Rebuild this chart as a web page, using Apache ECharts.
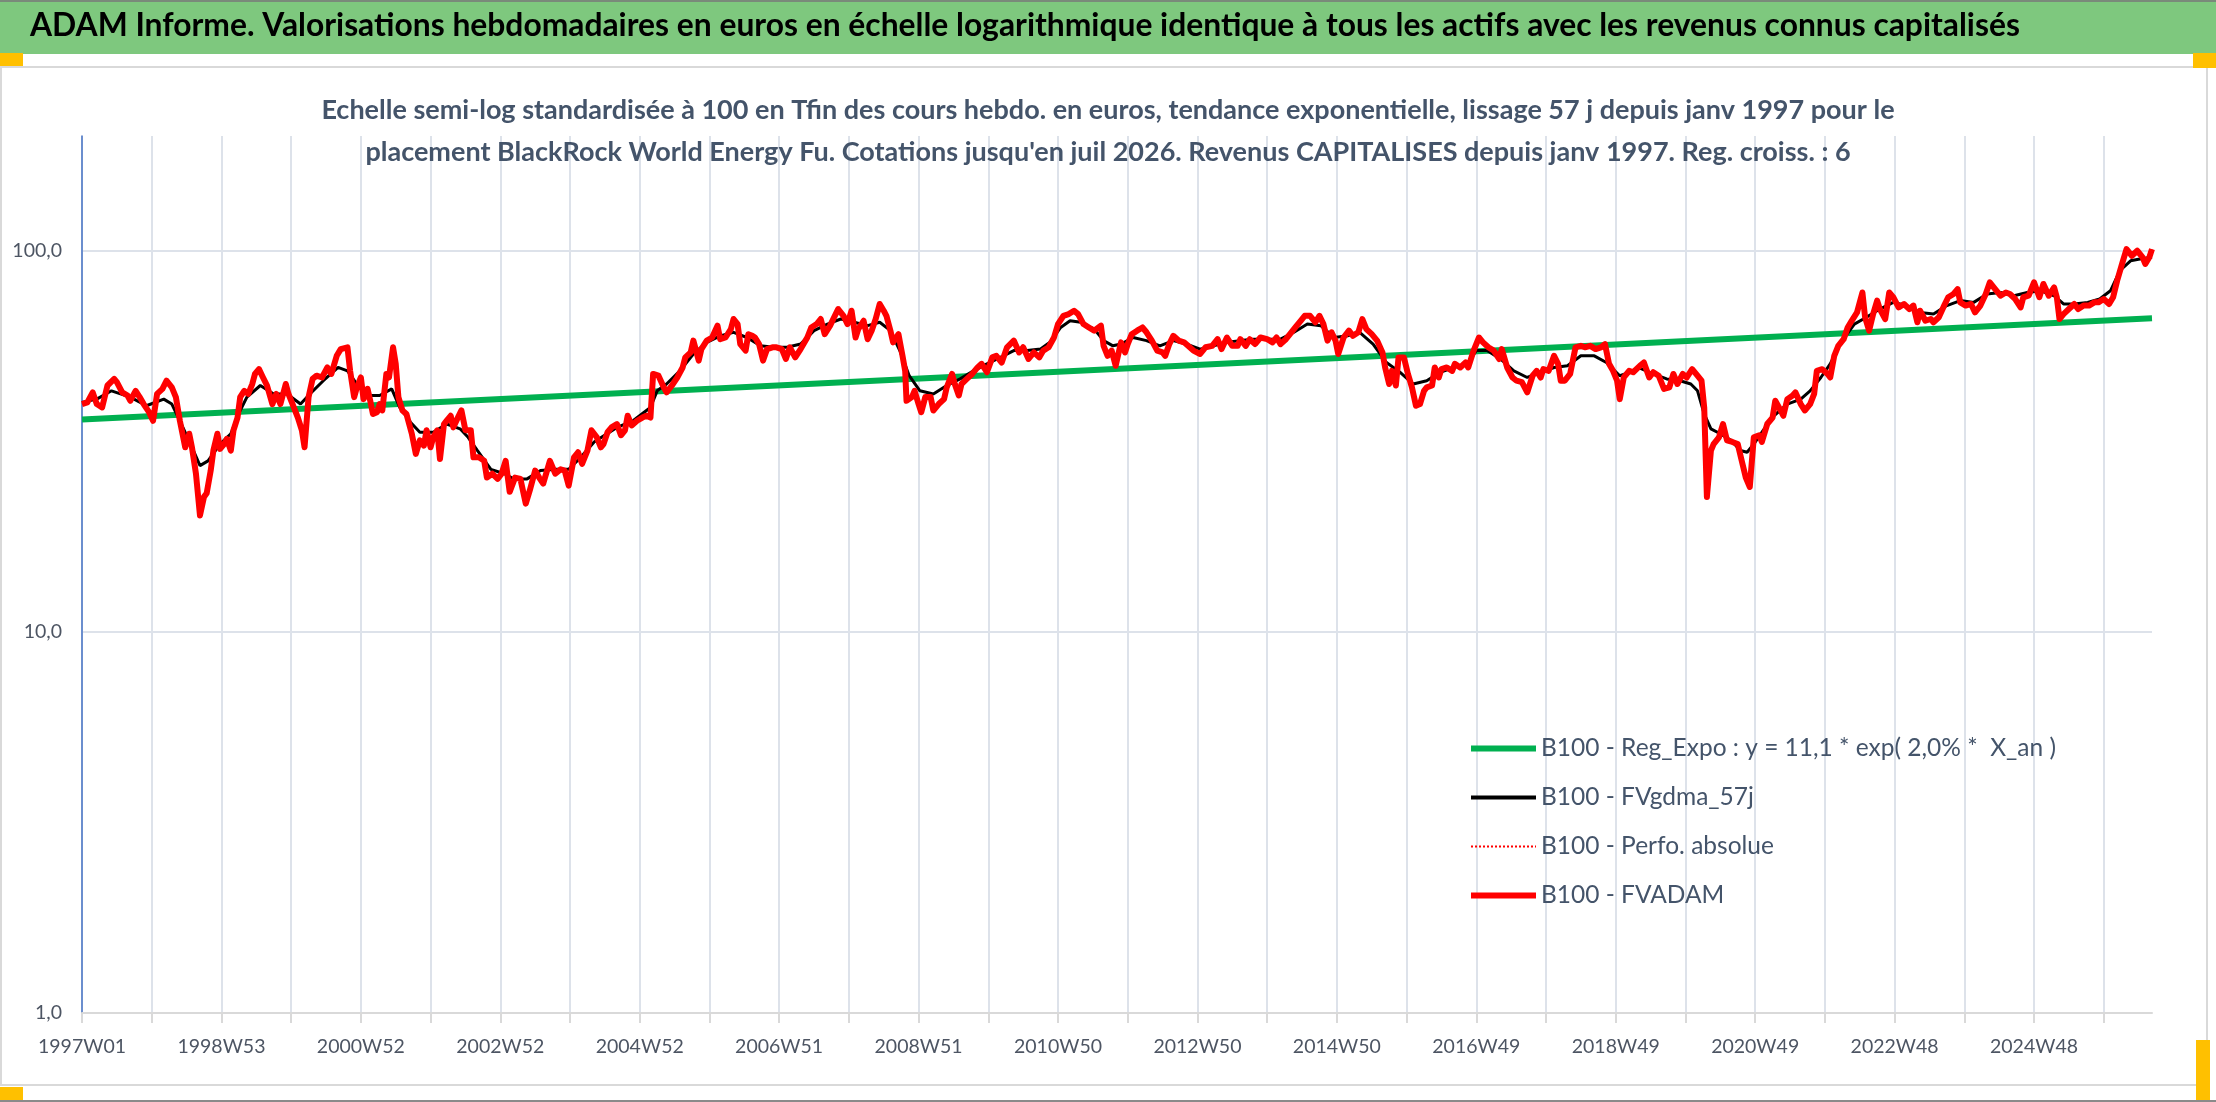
<!DOCTYPE html>
<html>
<head>
<meta charset="utf-8">
<script src="https://cdn.jsdelivr.net/npm/echarts@6/dist/echarts.min.js"></script>
<style>
html,body{margin:0;padding:0;background:#fff;}
#chart{width:2216px;height:1102px;}
</style>
</head>
<body>
<div id="chart"></div>
<script>
// ---- Week categories (ISO weeks from 1997W01, weekly) ----
const WEEK_COUNT = 1545;
const weekLabels = [];
(function () {
  const day = 864e5;
  const start = Date.UTC(1996, 11, 30);
  for (let i = 0; i < WEEK_COUNT; i++) {
    const th = new Date(start + i * 7 * day + 3 * day);
    const y = th.getUTCFullYear();
    const wk = Math.floor((th.getTime() - Date.UTC(y, 0, 1)) / (7 * day)) + 1;
    weekLabels.push(y + 'W' + String(wk).padStart(2, '0'));
  }
})();

const yTicks = [1, 10, 100];

// ---- Series values: [week index, value] ----
const regExpo = [[0, 36.1], [1544, 66.5]];

const fvadam = [
[0,39.6],[4,40.0],[8,42.5],[11,39.6],[15,38.8],[19,44.3],[24,46.1],[26,45.2],[30,42.5],[34,41.7],
[36,40.4],[40,42.9],[43,41.3],[46,39.6],[50,37.7],[53,35.8],[56,42.1],[60,43.4],[63,45.6],[67,43.8],
[70,41.3],[73,35.8],[77,30.5],[80,33.1],[82,30.5],[85,26.0],[88,20.2],[91,22.6],[93,23.1],[96,26.5],
[98,29.9],[101,33.1],[103,30.2],[106,31.1],[108,32.1],[111,29.9],[113,33.8],[116,36.5],[118,41.3],[121,42.9],
[124,42.1],[127,44.7],[129,47.5],[132,48.9],[135,46.5],[138,44.3],[142,39.6],[145,42.1],[148,39.6],[152,44.7],
[154,42.1],[158,38.8],[161,36.5],[164,33.8],[166,30.5],[169,41.3],[172,46.1],[175,47.0],[179,46.5],[183,49.4],
[186,47.5],[190,53.0],[193,55.2],[198,55.8],[200,48.4],[203,41.3],[205,43.8],[208,46.5],[210,40.8],[213,43.4],
[215,40.4],[217,37.3],[220,37.7],[222,39.6],[224,38.1],[227,47.5],[229,46.5],[232,55.8],[234,50.5],[236,41.3],
[239,38.1],[242,37.3],[246,33.1],[249,29.3],[252,31.8],[255,30.8],[257,33.8],[260,30.5],[262,32.4],[265,33.8],
[267,28.4],[270,35.1],[272,35.8],[275,36.9],[277,34.4],[281,36.9],[283,38.1],[286,33.8],[290,33.8],[292,28.7],
[296,28.7],[300,28.1],[302,25.4],[306,26.0],[310,25.2],[313,26.0],[316,28.1],[319,23.3],[323,25.4],[327,25.2],
[331,21.7],[334,23.5],[338,26.5],[341,25.4],[344,24.5],[349,28.1],[353,26.0],[357,26.7],[360,26.5],[363,24.2],
[367,28.7],[370,29.6],[373,27.6],[377,29.9],[380,33.8],[384,32.4],[387,30.5],
[389,31.1],[392,33.4],[395,34.4],[399,35.1],[402,32.8],[405,33.8],[407,36.9],[410,34.8],[414,35.8],[418,36.5],
[421,36.9],[424,36.5],[426,47.5],[430,47.0],[434,43.8],[436,42.5],[440,44.3],[444,46.5],[448,49.4],[450,52.5],
[454,54.1],[456,58.1],[460,51.5],[462,55.2],[466,58.1],[470,59.2],[474,63.6],[476,58.6],[480,59.2],[484,62.3],
[486,66.2],[489,64.2],[491,56.9],[495,54.7],[497,60.4],[500,59.8],[502,59.2],[505,56.9],[508,51.5],[511,55.2],
[515,55.8],[518,55.8],[522,55.2],[525,52.0],[528,55.8],[532,52.5],[536,55.2],[541,59.2],[544,62.9],[548,64.2],
[551,66.2],[554,60.4],[558,63.6],[561,66.9],[564,70.3],[568,67.5],[571,64.2],[574,69.6],[577,59.2],[579,62.3],
[583,65.5],[586,58.6],[589,61.7],[592,66.2],[595,72.5],[598,69.6],[600,67.5],[603,61.7],[605,57.5],[609,60.4],
[612,53.0],[614,48.4],[615,40.4],[619,41.3],[621,42.9],[624,39.6],[626,37.7],[629,41.3],[633,41.3],[635,38.1],
[639,39.6],[643,40.8],[645,43.8],[649,47.5],[651,44.7],[654,41.7],[656,44.7],[660,46.1],[664,47.5],[668,49.4],
[671,50.5],[675,48.0],[679,52.5],[682,53.0],[686,50.9],[690,55.8],[695,58.1],[699,54.1],[702,55.8],[706,52.0],
[710,54.1],[714,52.5],[717,54.7],[721,55.8],[725,59.2],[728,64.2],[732,67.5],[736,68.2],[740,69.6],[743,68.2],
[747,64.2],[751,62.9],[755,61.7],[760,63.6],[762,56.3],[765,53.0],[768,54.7],[771,49.9],[775,57.5],
[778,54.1],[780,56.9],[783,60.4],[787,61.7],[791,62.9],[794,61.1],[798,58.1],[802,54.7],[806,54.1],
[808,53.0],[811,56.9],[814,59.8],[818,58.1],[822,57.5],[825,56.3],[829,54.7],[834,53.6],[838,55.8],[843,56.3],
[847,58.6],[850,55.2],[854,59.2],[858,56.3],[862,56.3],[864,58.6],[868,56.3],[871,58.6],[875,56.9],[879,59.2],
[884,58.6],[888,57.5],[891,59.2],[894,56.9],[898,58.6],[901,60.4],[905,62.9],[909,65.5],[912,67.5],[916,67.5],
[920,64.9],[923,67.5],[926,64.2],[929,58.1],[932,61.1],[935,58.1],[937,53.6],[941,59.2],[945,61.7],[948,59.8],
[952,61.1],[955,66.2],[958,62.3],[962,60.4],[966,58.1],[970,54.1],[972,49.4],[975,44.7],[977,48.4],[980,44.3],
[982,52.5],[986,52.5],[989,47.5],[992,43.8],[995,39.2],[998,39.6],[1001,42.9],[1003,43.8],[1007,44.3],[1009,49.4],
[1012,46.5],[1014,48.9],[1018,49.4],[1022,48.4],[1024,50.5],[1028,49.4],[1032,50.9],[1034,49.4],[1038,54.7],[1042,59.2],
[1045,57.5],[1049,55.8],[1053,54.7],[1057,52.0],[1059,55.2],[1063,49.4],[1067,46.5],[1070,45.6],[1074,45.2],[1078,42.5],
[1082,47.0],[1085,48.4],[1088,46.5],[1090,48.9],[1094,48.4],[1098,53.0],[1101,50.5],[1103,45.6],[1106,45.6],[1110,47.5],
[1114,55.8],[1118,56.3],[1121,55.8],[1125,56.3],[1129,55.2],[1133,55.8],[1136,56.9],[1139,50.5],[1142,48.4],[1145,45.6],
[1147,40.8],[1150,46.5],[1154,48.4],[1157,48.0],[1162,49.9],
[1165,50.9],[1169,46.5],[1172,48.0],[1176,47.0],[1180,43.4],[1184,43.8],[1187,47.5],[1190,44.7],[1194,47.5],[1197,46.5],
[1201,48.9],[1205,47.0],[1208,45.6],[1210,38.8],[1212,22.6],[1215,29.9],[1217,31.1],[1221,32.4],[1224,35.1],[1227,31.8],
[1231,31.5],[1235,31.1],[1238,28.1],[1241,25.4],[1244,24.0],[1247,32.4],[1251,32.8],[1253,31.5],[1257,35.1],[1261,36.5],
[1263,40.4],[1267,38.1],[1269,36.9],[1272,40.8],[1276,41.7],[1278,42.5],[1282,39.6],[1285,38.1],[1289,39.6],[1292,42.1],
[1294,48.4],[1298,48.9],[1302,47.5],[1304,46.5],[1307,53.0],[1310,56.3],[1314,58.6],[1317,62.9],[1320,65.5],[1324,68.9],
[1328,77.7],[1330,66.9],[1333,61.7],[1336,68.2],[1339,74.0],[1341,70.3],[1345,66.2],[1348,77.7],[1351,75.5],[1355,71.0],
[1359,72.5],[1363,70.3],[1366,71.8],[1369,64.9],[1371,69.6],[1375,65.5],[1379,66.2],[1381,64.9],[1385,66.9],[1389,71.8],
[1392,75.5],[1396,77.0],[1399,79.3],[1401,73.2],[1405,71.8],[1409,72.5],[1412,68.9],[1416,71.8],[1420,77.0],[1423,82.6],
[1427,79.3],[1431,76.2],[1435,77.7],[1438,77.0],[1442,74.7],[1446,71.0],[1448,75.5],[1452,76.2],[1456,82.6],[1460,75.5],
[1463,81.8],[1467,76.2],[1471,80.1],[1473,75.5],[1475,66.2],[1478,68.2],[1482,70.3],[1486,72.5],[1489,70.3],[1493,71.8],
[1497,71.8],[1501,73.2],[1504,73.2],[1508,74.7],[1512,72.5],[1515,75.5],[1518,83.4],[1522,93.2],[1525,101.0],[1529,97.0],
[1533,100.0],[1537,96.1],[1539,92.3],[1542,96.1],[1544,101.0]
];

const perfoAbsolue = fvadam;

const fvgdma = [
[0,40.0],[11,40.8],[22,42.9],[36,41.3],[48,39.2],[61,40.8],[67,39.6],[73,35.8],[81,31.1],[88,27.3],
[94,28.1],[103,31.1],[111,33.1],[118,38.1],[123,41.3],[133,44.3],[143,42.1],[153,42.1],[163,39.6],[170,42.1],
[180,45.6],[191,49.4],[198,48.4],[205,44.7],[213,41.7],[222,41.7],[231,43.4],[237,38.8],[245,35.5],[252,33.4],
[262,33.4],[272,35.1],[282,34.1],[288,32.4],[295,29.9],[305,26.7],[315,26.0],[322,25.2],[332,25.2],[342,26.5],
[354,26.7],[363,26.7],[372,28.7],[382,31.5],[399,34.4],[411,35.8],[424,38.8],[429,42.9],[436,44.7],[446,48.4],
[456,53.6],[466,57.5],[476,59.8],[486,61.1],[496,59.2],[506,56.3],[516,55.8],[526,55.8],[536,56.9],[546,61.7],
[556,64.2],[566,66.2],[576,64.9],[586,63.6],[595,64.9],[603,61.7],[610,54.7],[617,47.0],[625,42.9],[635,42.1],
[645,44.3],[655,46.1],[665,48.4],[675,50.5],[685,52.5],[695,54.7],[705,54.7],[715,55.2],[722,57.5],[730,62.9],
[737,65.5],[745,64.9],[755,62.3],[762,58.1],[769,56.3],[775,56.9],[784,59.2],[794,58.1],[804,56.3],[814,58.1],
[824,56.9],[834,55.2],[844,56.3],[854,57.5],[864,58.1],[874,58.6],[884,58.6],[894,58.6],[904,61.1],[914,64.2],
[924,63.6],[934,59.2],[944,59.8],[953,61.1],[963,56.9],[973,50.9],[983,48.0],[993,44.7],[1003,45.6],[1013,48.0],
[1023,49.4],[1033,50.5],[1040,54.7],[1048,54.7],[1058,52.0],[1068,48.4],[1078,46.5],[1088,48.0],[1098,49.4],[1108,49.9],
[1118,53.0],[1128,53.0],[1137,50.9],[1147,47.0],[1155,48.0],[1162,49.2],[1172,47.5],[1182,46.1],[1192,45.6],[1200,44.7],
[1205,42.9],[1210,37.3],[1215,34.1],[1222,33.1],[1230,31.8],[1237,29.9],[1242,29.6],[1247,31.1],[1254,33.8],[1262,36.9],
[1272,39.6],[1282,40.8],[1289,42.9],[1297,46.5],[1304,50.5],[1312,57.5],[1322,64.2],[1331,66.9],[1341,70.3],[1351,73.2],
[1361,71.8],[1371,68.9],[1381,68.2],[1391,71.8],[1401,74.0],[1411,73.2],[1421,77.0],[1431,77.7],[1441,76.2],[1451,77.7],
[1461,78.5],[1471,76.2],[1478,72.5],[1486,72.5],[1496,73.2],[1505,74.7],[1513,78.5],[1520,88.6],[1528,94.1],[1535,95.1],
[1544,96.1]
];

const seriesNames = [
  'B100 - Reg_Expo : y = 11,1 * exp( 2,0% *  X_an )',
  'B100 - FVgdma_57j',
  'B100 - Perfo. absolue',
  'B100 - FVADAM'
];

const mainTitle = 'ADAM Informe. Valorisations hebdomadaires en euros en échelle logarithmique identique à tous les actifs avec les revenus connus capitalisés';
const subTitle1 = 'Echelle semi-log standardisée à 100 en Tfin des cours hebdo. en euros, tendance exponentielle, lissage 57 j depuis janv 1997 pour le';
const subTitle2 = "placement BlackRock World Energy Fu. Cotations jusqu'en juil 2026. Revenus CAPITALISES depuis janv 1997. Reg. croiss. : 6";

const FONT = 'Lato, "Open Sans", sans-serif';
const chart = echarts.init(document.getElementById('chart'), null, {renderer: 'canvas'});

const subStyle = {fontFamily: FONT, fontSize: 27, fontWeight: 'bold', color: '#44546A', lineHeight: 30};

chart.setOption({
  animation: false,
  backgroundColor: '#ffffff',
  graphic: [
    {type: 'rect', z: 0, shape: {x: 0, y: 0, width: 2216, height: 54}, style: {fill: '#7EC87E'}},
    {type: 'rect', z: 0, shape: {x: 0, y: 0, width: 2216, height: 2}, style: {fill: '#7a8a7a'}},
    {type: 'rect', z: 0, shape: {x: 1, y: 67, width: 2206, height: 1018}, style: {fill: 'none', stroke: '#D9D9D9', lineWidth: 2}},
    {type: 'rect', z: 1, shape: {x: 0, y: 53, width: 23, height: 13}, style: {fill: '#FFC000'}},
    {type: 'rect', z: 1, shape: {x: 2193, y: 53, width: 23, height: 15}, style: {fill: '#FFC000'}},
    {type: 'rect', z: 1, shape: {x: 0, y: 1087, width: 23, height: 13}, style: {fill: '#FFC000'}},
    {type: 'rect', z: 1, shape: {x: 2196, y: 1040, width: 14, height: 60}, style: {fill: '#FFC000'}},
    {type: 'rect', z: 0, shape: {x: 0, y: 1100, width: 2216, height: 2}, style: {fill: '#8a8a8a'}}
  ],
  title: [
    {
      text: mainTitle, left: 30, top: 10, padding: 0, z: 10,
      textStyle: {fontFamily: FONT, fontSize: 31.8, fontWeight: 'bold', color: '#000000'}
    },
    {text: subTitle1, left: 'center', top: 95, padding: 0, z: 10, textStyle: subStyle},
    {text: subTitle2, left: 'center', top: 137, padding: 0, z: 10, textStyle: subStyle}
  ],
  legend: {
    orient: 'vertical', left: 1468, top: 736, padding: 0,
    itemWidth: 65, itemHeight: 20, itemGap: 24,
    itemStyle: {opacity: 0},
    data: [
      {name: seriesNames[0], lineStyle: {width: 6, color: '#00B050'}},
      {name: seriesNames[1], lineStyle: {width: 4, color: '#000000'}},
      {name: seriesNames[2], lineStyle: {width: 2, color: '#FF0000', type: 'dotted'}},
      {name: seriesNames[3], lineStyle: {width: 6, color: '#FF0000'}}
    ],
    textStyle: {fontFamily: FONT, fontSize: 24.5, color: '#44546A'}
  },
  grid: {left: 82, right: 64, top: 136, bottom: 89, containLabel: false},
  xAxis: {
    type: 'category', data: weekLabels, boundaryGap: false,
    axisLine: {show: true, lineStyle: {color: '#D9D9D9', width: 2}},
    axisTick: {show: true, length: 10, interval: (i) => i % 52 === 0, lineStyle: {color: '#D9D9D9', width: 2}},
    axisLabel: {interval: (i) => i % 104 === 0, margin: 24, fontFamily: FONT, fontSize: 19.5, color: '#4D5563'},
    splitLine: {show: true, interval: (i) => i % 52 === 0, lineStyle: {color: '#DDE2EA', width: 2}}
  },
  yAxis: {
    type: 'log', logBase: 10, min: yTicks[0], max: 200,
    axisLine: {show: true, lineStyle: {color: '#4472C4', width: 1.5}},
    axisTick: {show: false},
    axisLabel: {
      margin: 20, fontFamily: FONT, fontSize: 19.5, color: '#4D5563', showMaxLabel: false,
      formatter: (v) => yTicks.indexOf(Math.round(v)) >= 0 ? Number(v).toFixed(1).replace('.', ',') : ''
    },
    splitLine: {show: true, showMaxLine: false, lineStyle: {color: '#DDE2EA', width: 2}}
  },
  series: [
    {name: seriesNames[0], type: 'line', data: regExpo, symbol: 'none', z: 2,
     lineStyle: {color: '#00B050', width: 6}, itemStyle: {color: '#00B050'}},
    {name: seriesNames[1], type: 'line', data: fvgdma, symbol: 'none', z: 3,
     lineStyle: {color: '#000000', width: 3}, itemStyle: {color: '#000000'}},
    {name: seriesNames[2], type: 'line', data: perfoAbsolue, symbol: 'none', z: 4,
     lineStyle: {color: '#FF0000', width: 1.5, type: 'dotted'}, itemStyle: {color: '#FF0000'}},
    {name: seriesNames[3], type: 'line', data: fvadam, symbol: 'none', z: 5,
     lineStyle: {color: '#FF0000', width: 6, join: 'round'}, itemStyle: {color: '#FF0000'}}
  ]
});
</script>
</body>
</html>
